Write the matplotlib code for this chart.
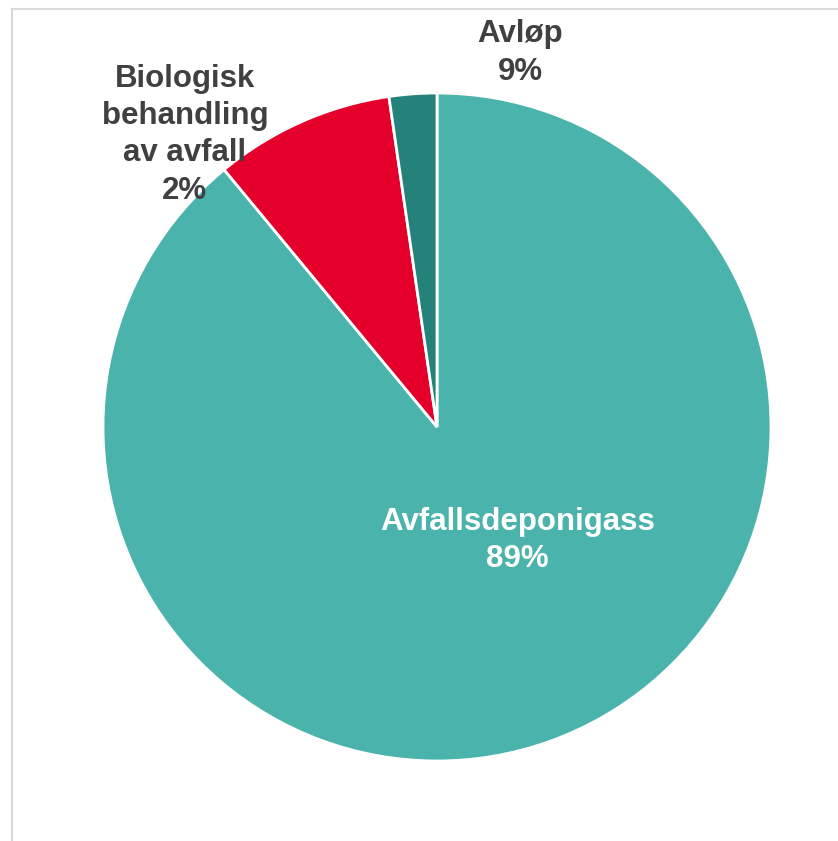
import matplotlib.pyplot as plt
from matplotlib.lines import Line2D

# Data
kategorier = ["Avfallsdeponigass", "Biologisk behandling av avfall", "Avløp"]
andeler = [89.0, 8.7, 2.3]
farger = ["#4AB3AC", "#E4002B", "#25827A"]

# Labels as shown in the figure
etiketter = ["Avfallsdeponigass\n89%", "Biologisk\nbehandling\nav avfall\n2%", "Avløp\n9%"]
etikett_pos = [(0.24, -0.34), (-0.755, 0.875), (0.25, 1.12)]
etikett_farge = ["white", "#404040", "#404040"]

plt.rcParams['font.family'] = ['Liberation Sans', 'DejaVu Sans']

W, H = 838, 841
fig = plt.figure(figsize=(W / 100, H / 100), dpi=100)

cx, cy, r = 437, 427, 334
ax = fig.add_axes([(cx - r) / W, (H - cy - r) / H, 2 * r / W, 2 * r / H])
ax.pie(andeler, colors=farger, startangle=90, counterclock=False, radius=1,
       wedgeprops=dict(edgecolor="white", linewidth=2))
ax.set_xlim(-1, 1)
ax.set_ylim(-1, 1)
ax.set_aspect("equal")
ax.axis("off")

for tekst, (x, y), c in zip(etiketter, etikett_pos, etikett_farge):
    ax.text(x, y, tekst, ha="center", va="center", fontsize=22.5,
            fontweight="bold", color=c, clip_on=False, linespacing=1.32)

# Chart area border (left and top visible)
fig.add_artist(Line2D([11.5 / W, 11.5 / W], [0, 1 - 8.5 / H], color="#D9D9D9", lw=1.5))
fig.add_artist(Line2D([11.5 / W, 1], [1 - 8.5 / H, 1 - 8.5 / H], color="#D9D9D9", lw=1.5))

fig.savefig("out.png", dpi=100)
